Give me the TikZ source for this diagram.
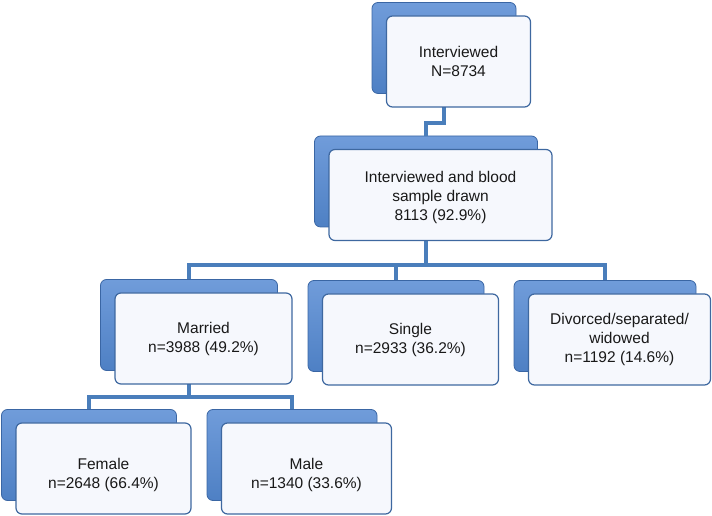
\documentclass[tikz,border=0pt]{standalone}
\usepackage{fontspec}
\setmainfont{Liberation Sans}
\usepackage{xcolor}
\usepackage{tikz}
\definecolor{linkblue}{RGB}{74,126,187}
\definecolor{backtop}{RGB}{112,156,218}
\definecolor{backbot}{RGB}{78,128,196}
\definecolor{backline}{RGB}{58,102,164}
\definecolor{frontfill}{RGB}{246,248,253}
\definecolor{frontline}{RGB}{62,104,160}
\tikzset{
  % box options
  back/.style={rectangle,rounded corners=6pt,draw=backline,line width=0.8pt,
    top color=backtop,bottom color=backbot,minimum height=91pt},
  front/.style={rectangle,rounded corners=6pt,draw=frontline,line width=1.2pt,
    fill=frontfill,minimum height=91pt,
    align=center,text=black!90,font=\fontsize{15.5}{19}\selectfont},
  % path options
  link/.style={draw=linkblue,line width=4pt},
}
\begin{document}
\begin{tikzpicture}[x=1pt,y=1pt]
  \useasboundingbox (0,0) rectangle (712,516);
  % back boxes
  \node[back,minimum width=144pt] (interviewed) at (444,468) {};
  \node[back,minimum width=223pt] (blood) at (426,334.5) {};
  \node[back,minimum width=177pt] (married) at (189,191) {};
  \node[back,minimum width=176pt] (single) at (396,190) {};
  \node[back,minimum width=182pt] (divorced) at (605,190) {};
  \node[back,minimum width=175pt] (female) at (89,61) {};
  \node[back,minimum width=170pt] (male) at (292,61) {};
  % connectors
  \draw[link] (interviewed.south) -- ++(0,-29) -| (blood.north);
  \draw[link] (blood.south) -- ++(0,-38) coordinate (bar1);
  \draw[link] (bar1) -| (married.north);
  \draw[link] (bar1) -| (single.north);
  \draw[link] (bar1) -| (divorced.north);
  \draw[link] (married.south) -- ++(0,-26) coordinate (bar2);
  \draw[link] (bar2) -| (female.north);
  \draw[link] (bar2) -| (male.north);
  % front boxes
  \node[front,minimum width=144pt] (interviewed-f) at ([shift={(14.5,-13.5)}]interviewed.center)
    {Interviewed\\N=8734};
  \node[front,minimum width=223pt] (blood-f) at ([shift={(14.5,-13.5)}]blood.center)
    {\rule{0pt}{17pt}Interviewed and blood\\sample drawn\\8113 (92.9\%)};
  \node[front,minimum width=177pt] (married-f) at ([shift={(14.5,-13.5)}]married.center)
    {Married\\n=3988 (49.2\%)};
  \node[front,minimum width=176pt] (single-f) at ([shift={(14.5,-13.5)}]single.center)
    {Single\\n=2933 (36.2\%)};
  \node[front,minimum width=182pt] (divorced-f) at ([shift={(14.5,-13.5)}]divorced.center)
    {Divorced/separated/\\widowed\\n=1192 (14.6\%)};
  \node[front,minimum width=175pt] (female-f) at ([shift={(14.5,-13.5)}]female.center)
    {\rule{0pt}{25pt}Female\\n=2648 (66.4\%)};
  \node[front,minimum width=170pt] (male-f) at ([shift={(14.5,-13.5)}]male.center)
    {\rule{0pt}{25pt}Male\\n=1340 (33.6\%)};
\end{tikzpicture}
\end{document}
